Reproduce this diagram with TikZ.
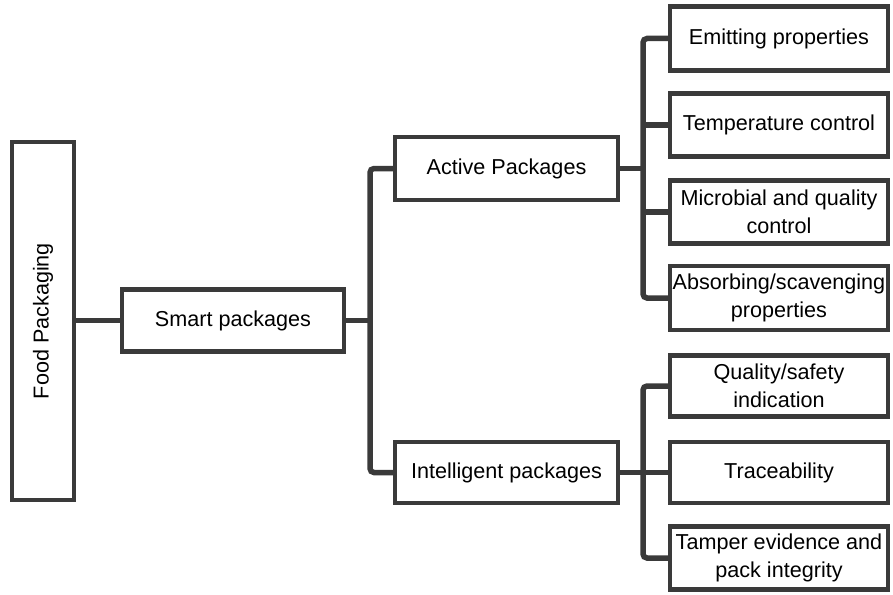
\documentclass[tikz,border=0pt]{standalone}
\usepackage{fontspec}
\setmainfont{Liberation Sans}
\usetikzlibrary{positioning}
\definecolor{linegray}{HTML}{3A3A3A}
\begin{document}
\begin{tikzpicture}[x=1pt,y=-1pt]

		\tikzstyle{box}=[rectangle,
			fill=white,draw=linegray,line width=4.5pt,
			minimum height=62pt,inner sep=0.5pt,
			align=center,font=\fontsize{21.6}{28}\selectfont]
		\tikzstyle{leaf}=[box,minimum width=218pt]
		\tikzstyle{conn}=[draw=linegray,line width=5.5pt,rounded corners=4pt]

		\useasboundingbox (0,0) rectangle (893,594);

		\node[box,minimum width=62pt,minimum height=358pt]	(food)	at (43,321)	{\rotatebox{90}{Food Packaging}};
		\node[box,minimum width=222pt]	(smart)	at (233,320.5)	{Smart packages};
		\node[box,minimum width=223pt,minimum height=63pt]	(active)	at (506.5,168.5)	{Active Packages};
		\node[box,minimum width=223pt,minimum height=61pt]	(intel)	at (506.5,472.5)	{Intelligent packages};

		\node[leaf,minimum height=64pt]	(emit)	at (779,38.5)	{Emitting properties};
		\node[leaf,minimum height=63pt]	(temp)	at (779,125)	{Temperature control};
		\node[leaf,minimum height=63pt]	(micro)	at (779,212)	{Microbial and quality\\control};
		\node[leaf,minimum height=64pt]	(absorb)	at (779,298)	{Absorbing/scavenging\\properties};
		\node[leaf,minimum height=61pt]	(quality)	at (779,386)	{Quality/safety\\indication};
		\node[leaf,minimum height=61pt]	(trace)	at (779,472.5)	{Traceability};
		\node[leaf,minimum height=63pt]	(tamper)	at (779,558)	{Tamper evidence and\\pack integrity};

		\coordinate (midbus) at (370,320.5);
		\coordinate (actbus) at (643,168.5);
		\coordinate (intbus) at (643,472.5);

		\draw[conn] (food.east |- smart.west) -- (smart.west);
		\draw[conn] (smart.east) -- (midbus);
		\draw[conn] (active.west) -| (midbus) |- (intel.west);

		\draw[conn] (active.east) -- (actbus);
		\draw[conn] (emit.west) -| (actbus) |- (absorb.west);
		\draw[conn] (temp.west) -- (temp.west -| actbus);
		\draw[conn] (micro.west) -- (micro.west -| actbus);

		\draw[conn] (intel.east) -- (intbus);
		\draw[conn] (quality.west) -| (intbus) |- (tamper.west);
		\draw[conn] (trace.west) -- (intbus);

	\end{tikzpicture}
\end{document}
